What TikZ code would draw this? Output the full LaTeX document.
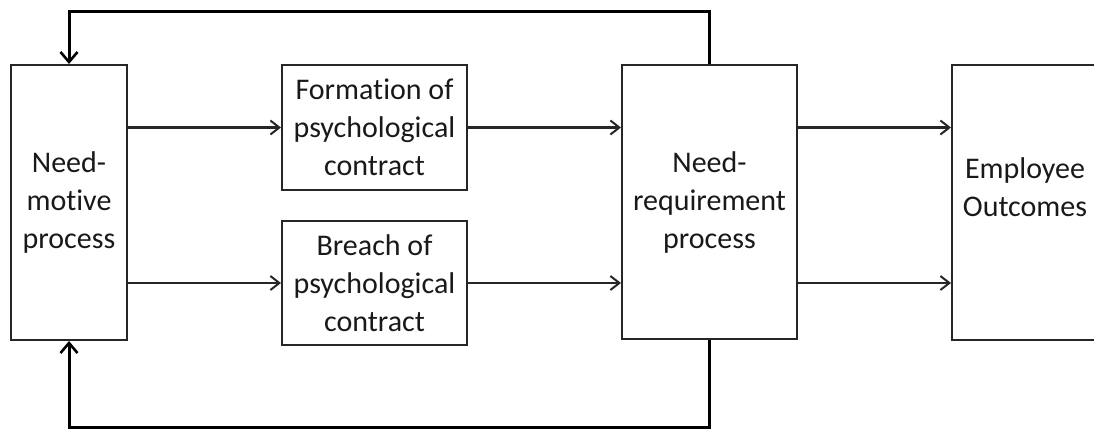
\documentclass[tikz,border=0pt]{standalone}
\usepackage{fontspec}
\setmainfont{Carlito}[Ligatures=NoCommon]
\usetikzlibrary{arrows.meta}
\begin{document}
\begin{tikzpicture}[x=1pt,y=-1pt,
  box/.style={draw=black!85, line width=2pt, rectangle, inner sep=0pt,
    align=center, font=\fontsize{30}{38}\selectfont, text=black!90},
  label text/.style={inner sep=0pt, align=center,
    font=\fontsize{30}{38}\selectfont, text=black!90},
  flow/.style={draw=black!85, line width=2.2pt,
    -{Straight Barb[length=9pt, width=14pt, line width=2pt]}},
  feedback/.style={draw=black, line width=3pt,
    -{Straight Barb[length=10pt, width=17pt, line width=2.6pt]}}]
  \useasboundingbox (0,0) rectangle (1094,429);

  % process boxes
  \node[box, minimum width=116pt, minimum height=275pt] (nm) at (69,202.5)
    {Need-\\motive\\process};
  \node[box, minimum width=185pt, minimum height=125pt] (form) at (374.5,127.5)
    {Formation of\\psychological\\contract};
  \node[box, minimum width=185pt, minimum height=124pt] (br) at (374.5,283)
    {Breach of\\psychological\\contract};
  \node[box, minimum width=175pt, minimum height=274pt] (nr) at (709.5,202)
    {Need-\\requirement\\process};
  \node[box, minimum width=146pt, minimum height=275pt] (emp) at (1025,202.5) {};
  \node[label text] (empT) at (1025,187) {Employee\\Outcomes};

  % forward flows
  \draw[flow] (nm.east |- form.west) -- (form.west);
  \draw[flow] (nm.east |- br.west) -- (br.west);
  \draw[flow] (form.east) -- (nr.west |- form.east);
  \draw[flow] (br.east) -- (nr.west |- br.east);
  \draw[flow] (nr.east |- form.east) -- (emp.west |- form.east);
  \draw[flow] (nr.east |- br.east) -- (emp.west |- br.east);

  % feedback loops
  \draw[feedback] (nr.north) -- (nr.north |- 0,11) -| (nm.north);
  \draw[feedback] (nr.south) -- (nr.south |- 0,427) -| (nm.south);
\end{tikzpicture}
\end{document}
